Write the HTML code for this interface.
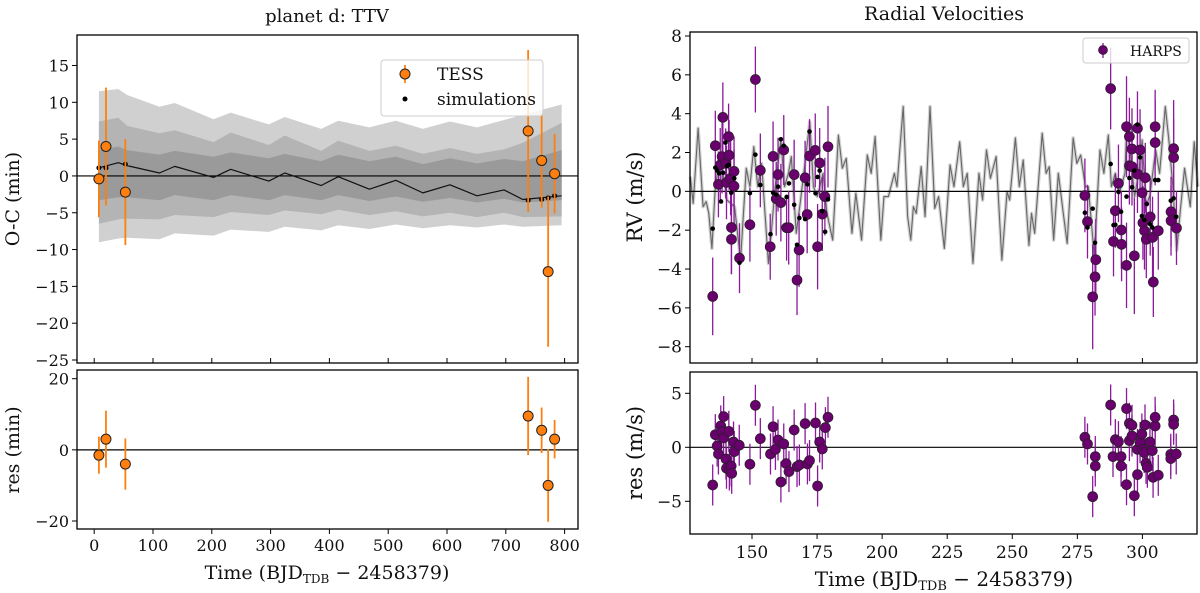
<!DOCTYPE html>
<html><head><meta charset="utf-8">
<style>
body{margin:0;background:#fff;}
svg{display:block;font-family:"DejaVu Serif","Liberation Serif",serif;}
</style></head>
<body>
<svg id="fig" width="1200" height="593" viewBox="0 0 1200 593" xmlns="http://www.w3.org/2000/svg">
<g id="L"></g>
<g id="R"></g>
</svg>
<script>
// ---------- TTV data ----------
const ttvTime = [8, 20, 53, 738, 761, 772, 783];
const ttvOC = [-0.4, 4.0, -2.2, 6.1, 2.1, -13.0, 0.3];
const ttvErr = [5.2, 8.0, 7.2, 11.0, 6.4, 10.2, 5.4];
const ttvRes = [-1.5, 3.0, -4.0, 9.5, 5.5, -10.0, 3.0];
const simTime = [8, 20, 53, 738, 761, 772, 783];
const simOC = [1.1, 1.1, 1.6, -3.3, -3.2, -3.0, -2.7];
const modelTime = [8, 41, 56, 111, 137, 203, 232, 297, 324, 386, 415, 468, 513, 559, 605, 651, 697, 729, 795];
const modelOC = [1.1, 1.8, 1.4, 0.4, 1.3, -0.2, 0.9, -0.7, 0.4, -1.3, -0.1, -1.8, -0.6, -2.3, -1.2, -2.7, -1.9, -3.2, -2.7];
const outerUp = [11.5, 11.8, 11.0, 9.4, 9.9, 7.7, 8.6, 7.0, 8.0, 6.4, 7.5, 6.6, 7.5, 6.4, 7.4, 6.6, 7.6, 8.3, 9.7];
const outerDn = [-9.0, -8.5, -8.4, -8.6, -7.8, -8.1, -7.3, -7.6, -6.9, -7.4, -6.7, -7.2, -6.6, -7.1, -6.7, -7.0, -6.6, -6.9, -6.7];
const midUp = [7.4, 7.9, 6.8, 5.8, 6.2, 4.6, 5.9, 4.2, 5.5, 3.4, 4.8, 3.4, 4.1, 3.0, 3.8, 3.0, 3.6, 4.5, 7.2];
const midDn = [-6.5, -5.9, -5.8, -5.9, -5.3, -5.6, -4.9, -5.3, -4.7, -5.2, -4.6, -5.3, -4.8, -5.5, -5.0, -5.6, -5.0, -5.6, -5.5];
const innerUp = [3.5, 4.0, 3.5, 2.9, 3.4, 2.6, 3.2, 2.4, 3.0, 2.0, 2.9, 2.0, 2.6, 1.6, 2.4, 1.7, 2.3, 2.0, 3.5];
const innerDn = [-3.3, -2.9, -2.9, -3.3, -2.6, -3.3, -2.6, -3.3, -2.6, -3.3, -2.6, -3.4, -2.8, -3.5, -3.0, -3.6, -3.1, -3.6, -3.3];
const ttvTicksX = [0, 100, 200, 300, 400, 500, 600, 700, 800];
const ttvTicksY = [15, 10, 5, 0, -5, -10, -15, -20, -25];
const ttvResTicksY = [20, 0, -20];

// ---------- RV data ----------
const rvTime = [134.9,135.9,137.1,137.8,138.8,138.5,139.9,140.2,141.0,141.2,141.8,142.1,142.1,143.1,143.1,145.2,149.2,151.3,153.2,157.0,158.1,159.3,160.0,161.1,162.2,163.3,164.1,166.2,167.3,168.1,170.4,171.2,172.1,174.3,175.2,176.0,177.0,178.0,179.2,
277.9,278.9,280.9,281.8,282.1,287.8,288.9,289.6,290.8,291.9,292.0,293.9,293.9,295.0,295.0,296.0,296.0,296.9,298.1,298.1,299.1,299.9,300.2,300.8,301.1,301.5,303.0,303.9,304.2,304.9,304.9,306.1,311.0,311.0,312.0,312.0,313.1];
const rvVal = [-5.41,2.35,0.36,1.36,3.81,1.79,1.44,0.46,2.82,1.86,0.67,-1.86,-2.47,1.03,0.27,-3.44,-1.72,5.76,1.08,-2.85,1.80,-0.38,0.86,-0.58,2.13,-1.87,-1.87,0.86,-4.57,-3.02,0.70,-1.19,1.82,2.11,-2.85,1.46,-1.17,-0.27,2.30,
-0.21,-1.56,-5.43,-4.40,-3.52,5.29,-2.58,-1.00,0.41,-1.99,-2.73,3.33,-3.81,2.82,1.32,2.18,1.27,-3.32,3.25,0.89,2.13,-0.07,-1.62,-2.03,0.70,-2.47,-1.31,-2.37,-4.67,3.33,2.51,-2.03,-1.05,-1.51,2.20,1.74,-1.89];
const rvErr = [2.0,1.8,1.7,1.9,1.8,1.9,1.8,1.9,1.7,1.8,1.9,2.4,1.8,1.8,1.9,1.8,1.9,1.7,1.9,1.7,1.8,1.9,1.9,2.0,1.8,1.7,1.9,1.8,1.8,1.9,1.9,2.0,1.9,1.9,2.2,1.8,1.9,2.0,2.1,
1.9,1.9,2.7,2.0,2.1,2.1,1.8,1.9,2.0,2.0,1.9,2.6,2.2,2.0,2.0,2.1,2.0,3.0,1.9,2.0,2.1,1.9,1.9,2.0,1.8,2.0,2.0,2.1,1.8,1.9,2.2,2.0,1.8,1.8,2.5,2.0,1.9];
const resTime = [134.9,135.9,136.6,137.1,138.0,138.3,139.1,139.1,140.0,140.2,141.1,141.3,142.0,142.2,142.9,143.2,145.1,149.2,151.3,153.2,157.1,158.1,159.0,160.0,161.1,162.2,163.1,164.2,166.2,167.3,168.2,170.4,171.3,172.1,174.4,175.2,176.0,177.0,178.2,179.2,
277.9,278.9,280.9,281.9,281.9,287.8,288.7,289.6,290.8,291.8,291.8,293.9,293.9,295.0,295.0,296.0,296.0,296.9,298.1,298.1,299.1,299.8,300.1,300.7,301.0,301.4,301.9,302.9,303.8,304.1,304.9,304.9,306.1,310.9,310.9,312.0,312.0,313.0];
const resVal = [-3.49,1.17,0.12,-0.62,1.98,1.45,2.84,0.86,-1.08,-1.94,1.48,-2.10,-1.73,-2.41,0.49,-0.40,0.19,-1.57,3.89,0.80,-0.62,1.91,-0.19,0.68,-3.21,0.31,-1.51,-2.25,1.60,-1.79,-1.64,2.19,-1.54,-1.23,2.25,-3.58,0.49,-0.15,1.82,2.78,
0.93,0.31,-4.57,-0.86,-1.73,3.92,-0.86,0.71,0.52,-0.86,-1.73,3.58,-3.46,2.22,0.62,2.04,1.05,-4.48,-0.19,-2.53,0.43,1.23,-0.19,-0.49,2.07,-1.48,-1.85,0.49,-0.31,-2.78,1.98,2.78,-2.59,-0.65,-1.05,2.53,2.13,-0.62];
const simRvTime = [134.9,135.9,136.6,137.4,138.1,138.9,139.8,140.4,141.1,142.0,143.2,145.2,149.2,151.3,153.2,157.1,158.1,159.3,160.0,161.1,162.2,163.3,164.2,166.2,167.3,168.2,170.4,171.3,172.1,174.4,175.2,176.0,177.0,178.1,179.2,
277.9,278.9,280.9,281.8,287.8,288.9,289.6,290.8,291.8,293.9,295.0,296.0,296.9,298.1,299.1,299.8,300.7,301.7,302.9,303.8,304.9,306.1,310.9,312.0,313.0];
const simRvVal = [-1.92,1.22,1.07,0.93,-0.52,0.96,2.51,1.31,1.36,-0.07,0.67,-3.68,-0.09,1.89,0.33,-2.20,-0.07,-0.17,0.24,2.68,2.35,-0.29,0.41,-0.69,-2.75,-1.37,-1.43,0.36,3.08,-0.10,0.74,1.07,-1.03,-2.08,-0.41,
-1.10,-1.86,-0.89,-2.65,1.41,-1.74,-1.72,-0.03,-1.05,-0.27,0.69,0.21,1.07,3.44,1.75,-1.27,-1.48,-0.65,-1.68,-1.86,0.58,0.58,-0.48,-0.36,-1.31];
const rvModelTime = [126.3,127.4,129.3,131.2,132.4,133.4,134.6,135.9,137.4,138.9,140.4,143.3,145.6,147.8,149.2,150.7,152.2,153.7,156.3,157.4,158.9,161.1,162.5,164.0,165.1,167.0,168.5,169.9,172.2,173.6,175.1,177.3,178.8,181.0,183.2,184.7,186.2,188.4,189.9,192.1,194.3,195.8,197.3,199.5,200.7,202.4,204.7,205.7,208.1,209.8,211.0,212.0,213.1,215.0,216.5,218.4,220.2,221.7,223.9,226.1,227.6,229.8,231.2,232.7,234.9,237.2,238.6,240.1,241.6,243.8,246.0,248.0,249.0,251.2,252.7,254.2,256.4,257.4,258.6,261.5,263.0,264.2,265.9,267.7,269.6,271.1,273.4,274.8,276.3,278.1,279.2,281.5,283.7,285.2,286.9,288.1,289.6,291.1,293.3,294.0,295.5,297.0,298.5,299.9,301.4,302.9,305.1,306.6,308.8,310.3,311.7,313.2,314.7,316.2,318.4,319.9,321.3];
const rvModelVal = [0.76,-0.62,3.25,-0.79,-0.53,-1.13,-2.94,0.24,1.61,0.93,-0.45,-0.79,-3.54,1.19,0.24,2.30,0.24,1.44,-3.71,-2.16,0.24,2.65,0.24,0.93,1.79,-2.16,-0.62,0.93,3.57,0.24,-0.27,0.93,-1.13,-2.51,2.89,1.19,1.70,-2.16,-0.10,-2.51,1.87,0.93,2.82,-2.51,-0.27,-0.27,0.93,0.24,4.37,-1.30,-2.51,-0.79,-1.13,1.27,-1.30,4.37,-0.88,-0.27,-2.94,1.36,0.24,2.55,0.24,0.93,-3.71,0.93,-0.45,2.13,0.67,1.79,-3.54,-0.02,-0.45,2.75,0.24,1.61,-2.78,-1.13,-2.16,2.99,0.93,1.27,-2.51,0.93,-1.13,-2.68,2.75,1.44,1.87,0.24,0.24,-3.30,2.13,0.93,2.90,0.24,0.93,-0.10,0.93,3.33,1.79,-0.27,0.93,2.65,-0.79,-0.19,2.13,0.93,4.37,2.47,0.24,-3.04,-0.79,1.19,-0.79,2.55,0.24];
const rvTicksX = [150, 175, 200, 225, 250, 275, 300];
const rvTicksY = [8, 6, 4, 2, 0, -2, -4, -6, -8];
const rvResTicksY = [5, 0, -5];

const NS = "http://www.w3.org/2000/svg";
function mk(parent, tag, attrs, text){
  const e = document.createElementNS(NS, tag);
  for (const k in attrs) e.setAttribute(k, attrs[k]);
  if (text !== undefined) e.textContent = text;
  parent.appendChild(e);
  return e;
}
function lin(d0, d1, r0, r1){ return v => r0 + (v - d0) * (r1 - r0) / (d1 - d0); }

const L = document.getElementById('L');
const R = document.getElementById('R');
const ORANGE = '#ff7f0e', PURPLE = '#6a006e';

const lx = lin(0, 800, 94.2, 564.6);
const ly = lin(15, -25, 65.5, 360);
const lry = lin(20, -20, 378.7, 521);
const LX0 = 77, LX1 = 578;

const rx = lin(150, 300, 752, 1142.4);
const ry = lin(8, -8, 36, 346.7);
const rry = lin(5, -5, 393.3, 501.3);
const RX0 = 690, RX1 = 1197;

function yTicks(g, ticks, sy, x0, fs){
  ticks.forEach(t => {
    const y = sy(t);
    const tk = mk(g, 'line', {x1: x0 - 5, x2: x0, y1: y, y2: y, stroke: '#000', 'stroke-width': 1});
    
    
    const lb = mk(g, 'text', {x: x0 - 8, y: y + 6, 'text-anchor': 'end', 'font-size': fs, fill: '#111'}, t < 0 ? '\u2212' + Math.abs(t) : String(t));
    
    
  });
}
function xTicks(g, ticks, sx, yb, labels, fs, ly_){
  ticks.forEach(t => {
    const x = sx(t);
    const tk = mk(g, 'line', {x1: x, x2: x, y1: yb, y2: yb + 5, stroke: '#000'});
    
    
    if (labels) {
      const lb = mk(g, 'text', {x: x, y: ly_, 'text-anchor': 'middle', 'font-size': fs, fill: '#111'}, String(t));
      
      
    }
  });
}
function frame(g, x0, y0, x1, y1, name){
  const f = mk(g, 'rect', {x: x0, y: y0, width: x1 - x0, height: y1 - y0, fill: 'none', stroke: '#000', 'stroke-width': 1.3});
  
  
}
function hline(g, x0, x1, y, name){
  const h = mk(g, 'line', {x1: x0, x2: x1, y1: y, y2: y, stroke: '#000', 'stroke-width': 1.2});
  
  
}

// ================= LEFT TOP =================
const bands = [[outerUp, outerDn, '#d0d0d0'], [midUp, midDn, '#b4b4b4'], [innerUp, innerDn, '#9a9a9a']];
bands.forEach((b, bi) => {
  let d = '';
  modelTime.forEach((t, i) => { d += (i ? 'L' : 'M') + lx(t) + ',' + ly(b[0][i]); });
  for (let i = modelTime.length - 1; i >= 0; i--) d += 'L' + lx(modelTime[i]) + ',' + ly(b[1][i]);
  const p = mk(L, 'path', {d: d + 'Z', fill: b[2], 'stroke-linejoin': 'round'});
  
  
});
hline(L, LX0, LX1, ly(0), 'zero-line');
{
  let d = '';
  modelTime.forEach((t, i) => { d += (i ? 'L' : 'M') + lx(t) + ',' + ly(modelOC[i]); });
  const p = mk(L, 'path', {d: d, fill: 'none', stroke: '#111', 'stroke-width': 1.2, 'stroke-linejoin': 'round'});
  
  
}
simTime.forEach((t, i) => {
  const c = mk(L, 'circle', {cx: lx(t), cy: ly(simOC[i]), r: 2.5, fill: '#000'});
  
  
});
ttvTime.forEach((t, i) => {
  const e = mk(L, 'line', {x1: lx(t), x2: lx(t), y1: ly(ttvOC[i] + ttvErr[i]), y2: ly(ttvOC[i] - ttvErr[i]), stroke: ORANGE, 'stroke-width': 1.8});
  
  
  const c = mk(L, 'circle', {cx: lx(t), cy: ly(ttvOC[i]), r: 5, fill: ORANGE, stroke: '#222', 'stroke-width': 1});
  
  
});
frame(L, LX0, 35, LX1, 363, 'ttv-axes-frame');
yTicks(L, ttvTicksY, ly, LX0, 16);
xTicks(L, ttvTicksX, lx, 358, false);
{
  const lg = mk(L, 'g', {});
  
  
  mk(lg, 'rect', {x: 381, y: 60, width: 162, height: 56, rx: 3, fill: 'rgba(255,255,255,0.8)', stroke: '#ccc'});
  mk(lg, 'line', {x1: 405, x2: 405, y1: 65, y2: 83, stroke: ORANGE, 'stroke-width': 1.8});
  mk(lg, 'circle', {cx: 405, cy: 74, r: 5, fill: ORANGE, stroke: '#222'});
  const t1 = mk(lg, 'text', {x: 437, y: 80, 'font-size': 17, fill: '#111'}, 'TESS');
  
  
  mk(lg, 'circle', {cx: 405, cy: 99, r: 2.5, fill: '#000'});
  const t2 = mk(lg, 'text', {x: 437, y: 105, 'font-size': 17, fill: '#111'}, 'simulations');
  
  
}
{
  const t = mk(L, 'text', {x: 327, y: 22, 'text-anchor': 'middle', 'font-size': 18, fill: '#111'}, 'planet d: TTV');
  
  
  const yl = mk(L, 'text', {x: 0, y: 0, 'text-anchor': 'middle', 'font-size': 19, fill: '#111', transform: 'translate(19,199) rotate(-90)'}, 'O-C (min)');
  
  
}

// ================= LEFT BOTTOM =================
hline(L, LX0, LX1, lry(0), 'res-zero-line');
ttvTime.forEach((t, i) => {
  const e = mk(L, 'line', {x1: lx(t), x2: lx(t), y1: lry(ttvRes[i] + ttvErr[i]), y2: lry(ttvRes[i] - ttvErr[i]), stroke: ORANGE, 'stroke-width': 1.8});
  
  
  const c = mk(L, 'circle', {cx: lx(t), cy: lry(ttvRes[i]), r: 5, fill: ORANGE, stroke: '#222', 'stroke-width': 1});
  
  
});
frame(L, LX0, 370, LX1, 529, 'ttv-res-axes-frame');
yTicks(L, ttvResTicksY, lry, LX0, 16);
xTicks(L, ttvTicksX, lx, 529, true, 16, 551);
{
  const yl = mk(L, 'text', {x: 0, y: 0, 'text-anchor': 'middle', 'font-size': 19, fill: '#111', transform: 'translate(19,450) rotate(-90)'}, 'res (min)');
  
  
  const xl = mk(L, 'text', {x: 327, y: 579, 'text-anchor': 'middle', 'font-size': 19, fill: '#111'});
  
  
  xl.innerHTML = 'Time (BJD<tspan font-size="12" dy="4">TDB</tspan><tspan dy="-4"> \u2212 2458379)</tspan>';
}

// ================= RIGHT TOP =================
{
  let d = '';
  rvModelTime.forEach((t, i) => { d += (i ? 'L' : 'M') + rx(t) + ',' + ry(rvModelVal[i]); });
  const halo = mk(R, 'path', {d: d, fill: 'none', stroke: '#d4d4d4', 'stroke-width': 3.5, 'stroke-linejoin': 'round'});
  
  
  const p = mk(R, 'path', {d: d, fill: 'none', stroke: '#666', 'stroke-width': 1.1, 'stroke-linejoin': 'round'});
  
  
}
hline(R, RX0, RX1, ry(0), 'rv-zero-line');
rvTime.forEach((t, i) => {
  const e = mk(R, 'line', {x1: rx(t), x2: rx(t), y1: ry(rvVal[i] + rvErr[i]), y2: ry(rvVal[i] - rvErr[i]), stroke: '#8a1a9a', 'stroke-width': 1.3});
  
  
});
rvTime.forEach((t, i) => {
  const c = mk(R, 'circle', {cx: rx(t), cy: ry(rvVal[i]), r: 5, fill: PURPLE, stroke: '#222', 'stroke-width': 0.7});
  
  
});
simRvTime.forEach((t, i) => {
  const c = mk(R, 'circle', {cx: rx(t), cy: ry(simRvVal[i]), r: 2.3, fill: '#000'});
  
  
});
frame(R, RX0, 32, RX1, 363, 'rv-axes-frame');
yTicks(R, rvTicksY, ry, RX0, 17);
xTicks(R, rvTicksX, rx, 358, false);
{
  const lg = mk(R, 'g', {});
  
  
  mk(lg, 'rect', {x: 1083, y: 38, width: 106, height: 25, rx: 3, fill: 'rgba(255,255,255,0.8)', stroke: '#ccc'});
  mk(lg, 'line', {x1: 1103, x2: 1103, y1: 43, y2: 58, stroke: '#8a1a9a', 'stroke-width': 1.3});
  mk(lg, 'circle', {cx: 1103, cy: 50, r: 4.5, fill: PURPLE, stroke: '#222', 'stroke-width': 0.7});
  const t1 = mk(lg, 'text', {x: 1130, y: 56, 'font-size': 14, fill: '#111'}, 'HARPS');
  
  
}
{
  const t = mk(R, 'text', {x: 944, y: 20, 'text-anchor': 'middle', 'font-size': 19, fill: '#111'}, 'Radial Velocities');
  
  
  const yl = mk(R, 'text', {x: 0, y: 0, 'text-anchor': 'middle', 'font-size': 21, fill: '#111', transform: 'translate(642,197) rotate(-90)'}, 'RV (m/s)');
  
  
}

// ================= RIGHT BOTTOM =================
hline(R, RX0, RX1, rry(0), 'rv-res-zero-line');
resTime.forEach((t, i) => {
  const e = mk(R, 'line', {x1: rx(t), x2: rx(t), y1: rry(resVal[i] + 1.9), y2: rry(resVal[i] - 1.9), stroke: '#8a1a9a', 'stroke-width': 1.3});
  
  
});
resTime.forEach((t, i) => {
  const c = mk(R, 'circle', {cx: rx(t), cy: rry(resVal[i]), r: 5, fill: PURPLE, stroke: '#222', 'stroke-width': 0.7});
  
  
});
frame(R, RX0, 372, RX1, 534, 'rv-res-axes-frame');
yTicks(R, rvResTicksY, rry, RX0, 17);
xTicks(R, rvTicksX, rx, 534, true, 17, 558);
{
  const yl = mk(R, 'text', {x: 0, y: 0, 'text-anchor': 'middle', 'font-size': 21, fill: '#111', transform: 'translate(642,453) rotate(-90)'}, 'res (m/s)');
  
  
  const xl = mk(R, 'text', {x: 944, y: 586, 'text-anchor': 'middle', 'font-size': 20, fill: '#111'});
  
  
  xl.innerHTML = 'Time (BJD<tspan font-size="13" dy="4">TDB</tspan><tspan dy="-4"> \u2212 2458379)</tspan>';
}
</script>
</body></html>
